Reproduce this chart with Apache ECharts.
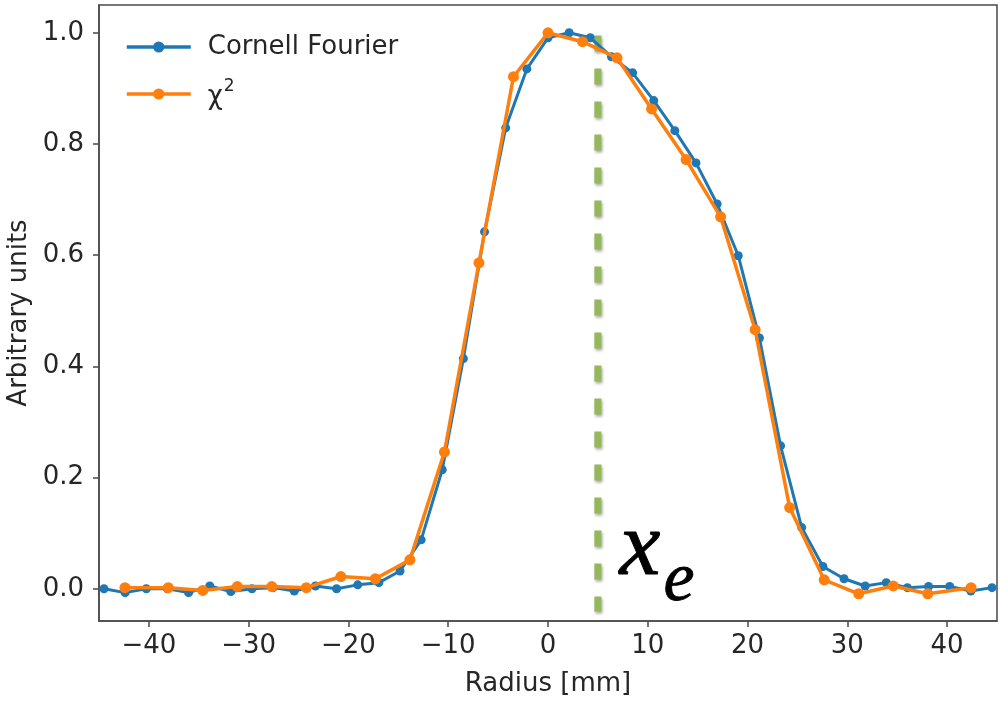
<!DOCTYPE html>
<html>
<head>
<meta charset="utf-8">
<script src="https://cdn.jsdelivr.net/npm/echarts@6/dist/echarts.min.js"></script>
<style>
html,body{margin:0;padding:0;background:#fff;}
#chart{width:1005px;height:705px;}
</style>
</head>
<body>
<div id="chart"></div>
<script>
// Cornell Fourier series (radius mm, arbitrary units)
const cornellX = [-44.50,-42.38,-40.26,-38.14,-36.02,-33.90,-31.79,-29.67,-27.55,-25.43,-23.31,-21.19,-19.07,-16.95,-14.83,-12.71,-10.60,-8.48,-6.36,-4.24,-2.12,0.00,2.12,4.24,6.36,8.48,10.60,12.71,14.83,16.95,19.07,21.19,23.31,25.43,27.55,29.67,31.79,33.90,36.02,38.14,40.26,42.38,44.50];
const cornellY = [0.000,-0.007,0.000,0.000,-0.007,0.005,-0.005,0.000,0.002,-0.004,0.005,0.000,0.007,0.011,0.032,0.088,0.214,0.414,0.642,0.829,0.935,0.991,1.000,0.991,0.957,0.928,0.878,0.824,0.766,0.692,0.599,0.451,0.257,0.110,0.040,0.018,0.005,0.011,0.002,0.004,0.004,-0.004,0.002];
// chi-square series
const chiX = [-42.40,-38.06,-34.60,-31.14,-27.68,-24.22,-20.76,-17.30,-13.84,-10.38,-6.92,-3.46,0.00,3.46,6.92,10.38,13.84,17.30,20.76,24.22,27.68,31.14,34.60,38.06,42.40];
const chiY = [0.002,0.002,-0.003,0.004,0.004,0.002,0.022,0.018,0.052,0.246,0.586,0.921,1.000,0.984,0.955,0.863,0.772,0.669,0.466,0.146,0.016,-0.009,0.005,-0.009,0.002];
// x_e marker line
const xeX = 5;
const xeTop = 0.995;
const xeBottom = -0.041;
// ticks
const xTicks = [-40,-30,-20,-10,0,10,20,30,40];
const yTicks = [0.0,0.2,0.4,0.6,0.8,1.0];
const seriesNames = ['Cornell Fourier', 'χ2'];

const zip = (a, b) => a.map((v, i) => [v, b[i]]);
const FONT = 'DejaVu Sans';
const axisColor = '#4a4a4a';
const textColor = '#262626';

const chart = echarts.init(document.getElementById('chart'));
chart.setOption({
  animation: false,
  backgroundColor: '#fff',
  grid: {left: 99, right: 8, top: 5, bottom: 84, show: true, borderColor: axisColor, borderWidth: 1.5,
    containLabel: false, outerBoundsMode: 'none'},
  legend: {
    data: seriesNames.map(n => ({name: n, lineStyle: {width: 3.5}})),
    orient: 'vertical',
    left: 120, top: 29,
    itemWidth: 64, itemHeight: 14, itemGap: 18,
    formatter: n => n === 'χ2' ? '{b|χ}{s|2}' : n,
    textStyle: {fontSize: 26, fontFamily: FONT, color: textColor, padding: [0,0,0,12],
      rich: {
        b: {fontSize: 26, fontFamily: FONT, color: textColor, verticalAlign: 'bottom', lineHeight: 32},
        s: {fontSize: 17, fontFamily: FONT, color: textColor, verticalAlign: 'top', lineHeight: 32, padding: [0,0,10,1]}
      }}
  },
  xAxis: {
    type: 'value', min: -45, max: 45,
    name: 'Radius [mm]', nameLocation: 'middle', nameGap: 50,
    nameTextStyle: {fontSize: 26, fontFamily: FONT, color: textColor},
    axisLine: {show: true, onZero: false, lineStyle: {color: axisColor, width: 1.5}},
    axisTick: {show: true, customValues: xTicks, length: 6, lineStyle: {color: axisColor, width: 1.5}},
    axisLabel: {customValues: xTicks, fontSize: 26, fontFamily: FONT, color: textColor, margin: 12,
      formatter: v => String(v).replace('-', '\u2212')},
    splitLine: {show: false}
  },
  yAxis: {
    type: 'value', min: -0.058, max: 1.05,
    name: 'Arbitrary units', nameLocation: 'middle', nameGap: 66,
    nameTextStyle: {fontSize: 26, fontFamily: FONT, color: textColor},
    axisLine: {show: true, onZero: false, lineStyle: {color: axisColor, width: 1.5}},
    axisTick: {show: true, customValues: yTicks, length: 6, lineStyle: {color: axisColor, width: 1.5}},
    axisLabel: {customValues: yTicks, fontSize: 26, fontFamily: FONT, color: textColor, margin: 15,
      formatter: v => Number(v).toFixed(1)},
    splitLine: {show: false}
  },
  series: [
    {
      name: 'xe', type: 'line', data: [[xeX, xeTop], [xeX, xeBottom]],
      symbol: 'none', silent: true, z: 1,
      lineStyle: {color: '#95b85a', width: 7, type: [16, 17], cap: 'butt',
        shadowColor: 'rgba(0,0,0,0.35)', shadowBlur: 3, shadowOffsetX: 1, shadowOffsetY: 2}
    },
    {
      name: seriesNames[0], type: 'line', data: zip(cornellX, cornellY),
      symbol: 'circle', symbolSize: 9, z: 2,
      itemStyle: {color: '#1f77b4'},
      lineStyle: {color: '#1f77b4', width: 3}
    },
    {
      name: seriesNames[1], type: 'line', data: zip(chiX, chiY),
      symbol: 'circle', symbolSize: 11, z: 3,
      itemStyle: {color: '#ff7f0e'},
      lineStyle: {color: '#ff7f0e', width: 3.5}
    }
  ],
  graphic: [
    {type: 'text', left: 619, top: 503, z: 10,
      style: {text: 'x', font: 'italic 92px "Liberation Serif"', fill: '#000', stroke: '#000', lineWidth: 1}},
    {type: 'text', left: 663, top: 546, z: 10,
      style: {text: 'e', font: 'italic 70px "Liberation Serif"', fill: '#000', stroke: '#000', lineWidth: 0.8}}
  ]
});
</script>
</body>
</html>
